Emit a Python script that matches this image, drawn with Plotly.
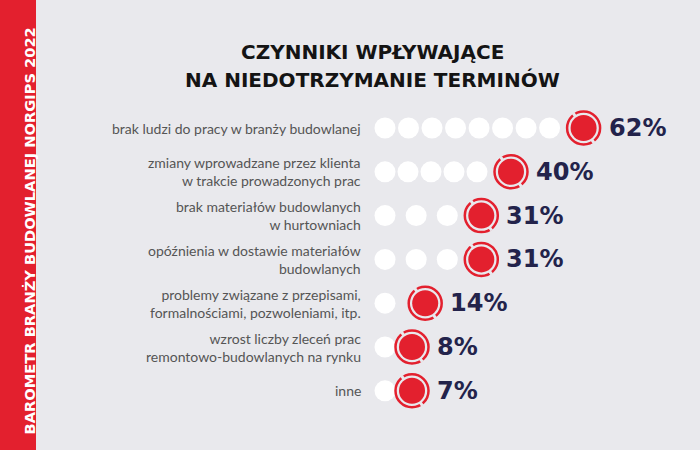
import plotly.graph_objects as go

# data read from the infographic
labels = [
    "brak ludzi do pracy w branży budowlanej",
    "zmiany wprowadzane przez klienta<br>w trakcie prowadzonych prac",
    "brak materiałów budowlanych<br>w hurtowniach",
    "opóźnienia w dostawie materiałów<br>budowlanych",
    "problemy związane z przepisami,<br>formalnościami, pozwoleniami, itp.",
    "wzrost liczby zleceń prac<br>remontowo-budowlanych na rynku",
    "inne",
]
values = [62, 40, 31, 31, 14, 8, 7]
white_dots = [8, 5, 3, 3, 1, 1, 1]

title_lines = ["CZYNNIKI WPŁYWAJĄCE", "NA NIEDOTRZYMANIE TERMINÓW"]
side_text = "BAROMETR BRANŻY BUDOWLANEJ NORGIPS 2022"

bg = "#e9e9ed"
red = "#e3202e"
navy = "#23234b"

# x axis in percent units, 3.3 px per percent
px_per = 3.3
x0_px = 379
xr = [-x0_px / px_per, (700 - x0_px) / px_per]
row_px = 43.8
yr = [(450 - 128) / row_px, -128 / row_px]

rows = list(range(len(values)))
red_x = [max(v, 10) for v in values]  # red marker can't sit on the first white dot

wx, wy = [], []
start = (385 - x0_px) / px_per
for i, n in enumerate(white_dots):
    end = red_x[i] - 34 / px_per
    if n == 1:
        xs = [start]
    else:
        step = (end - start) / (n - 1)
        xs = [start + k * step for k in range(n)]
    wx += xs
    wy += [i] * n

fig = go.Figure()
fig.add_trace(go.Scatter(x=wx, y=wy, mode="markers",
                         marker=dict(size=21, color="white", line=dict(width=0))))
fig.add_trace(go.Scatter(x=red_x, y=rows, mode="markers",
                         marker=dict(symbol="circle-open", size=33, color=red,
                                     line=dict(width=2.5, color=red))))
# small breaks in the ring
fig.add_trace(go.Scatter(x=red_x, y=rows, mode="markers",
                         marker=dict(symbol="line-ns-open", size=26, angle=-35, color=bg,
                                     line=dict(width=3, color=bg))))
fig.add_trace(go.Scatter(x=red_x, y=rows, mode="markers",
                         marker=dict(size=26, color=red, line=dict(width=0))))

for i in rows:
    fig.add_annotation(x=red_x[i], y=i, text=f"{values[i]}%", showarrow=False,
                       xanchor="left", xshift=23,
                       font=dict(family="DejaVu Sans", size=24, color=navy, weight="bold"))
    fig.add_annotation(x=(363 - x0_px) / px_per, y=i, text=labels[i], showarrow=False,
                       xanchor="right", align="right",
                       font=dict(family="Lato", size=14, color="#555555"))

for k, yy in enumerate([52, 80]):
    fig.add_annotation(xref="paper", yref="paper", x=372 / 700, y=1 - yy / 450,
                       yanchor="middle", text=title_lines[k], showarrow=False,
                       font=dict(family="DejaVu Sans", size=20, color="#141414", weight="bold"))

fig.add_shape(type="rect", xref="paper", yref="paper", x0=0, x1=36 / 700, y0=0, y1=1,
              fillcolor=red, line=dict(width=0), layer="below")
fig.add_annotation(xref="paper", yref="paper", x=18 / 700, y=0.5 - 6 / 450, text=side_text,
                   textangle=-90, showarrow=False,
                   font=dict(family="DejaVu Sans", size=14.65, color="white", weight="bold"))

fig.update_layout(
    width=700, height=450,
    margin=dict(l=0, r=0, t=0, b=0),
    paper_bgcolor=bg, plot_bgcolor=bg,
    showlegend=False,
    xaxis=dict(range=xr, visible=False, fixedrange=True),
    yaxis=dict(range=yr, visible=False, fixedrange=True),
)

fig.write_html("out.html", config={"displayModeBar": False},
               post_script="document.body.style.margin='0';")
